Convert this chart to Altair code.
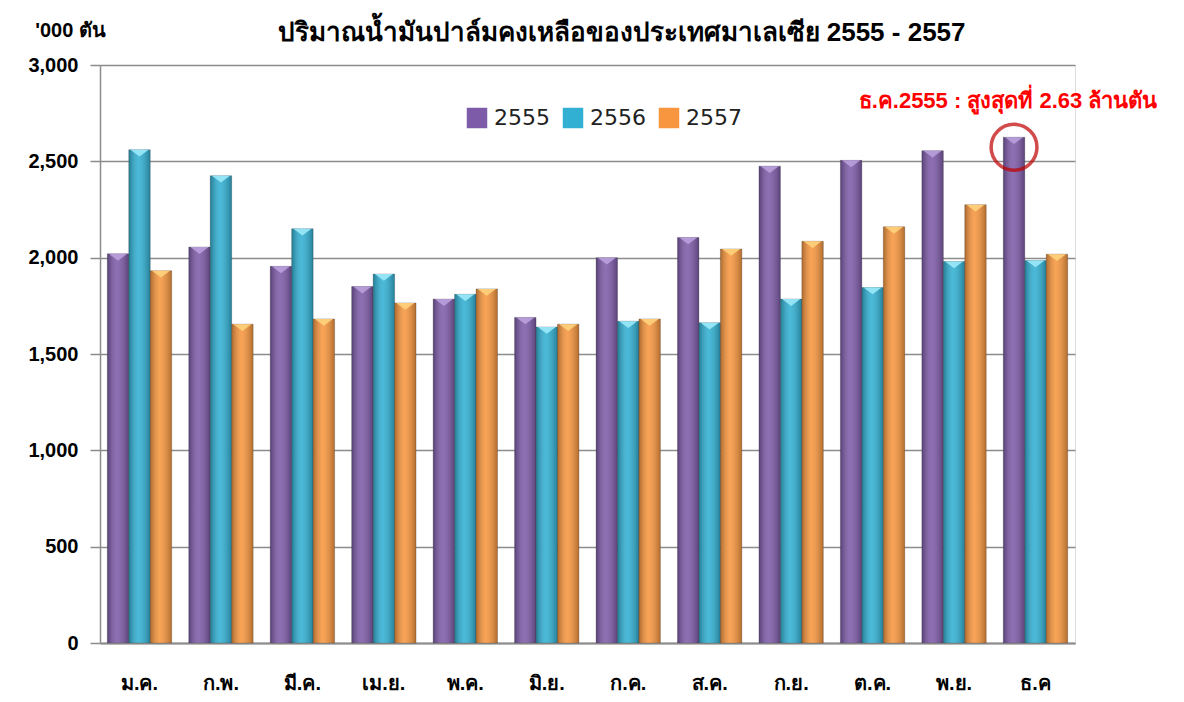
import altair as alt
import pandas as pd

months = ["ม.ค.", "ก.พ.", "มี.ค.", "เม.ย.", "พ.ค.", "มิ.ย.", "ก.ค.", "ส.ค.", "ก.ย.", "ต.ค.", "พ.ย.", "ธ.ค"]
years = ["2555", "2556", "2557"]
v2555 = [2020, 2055, 1955, 1850, 1785, 1690, 2000, 2105, 2475, 2505, 2555, 2625]
v2556 = [2560, 2425, 2150, 1915, 1810, 1640, 1670, 1662, 1785, 1845, 1980, 1985]
v2557 = [1932, 1655, 1682, 1765, 1838, 1655, 1682, 2045, 2085, 2160, 2275, 2018]
y_ticks = [0, 500, 1000, 1500, 2000, 2500, 3000]

colors = ["#7D5BA8", "#31B0D3", "#F7963E"]
top_colors = ["#B9A0DC", "#9BEAFA", "#FFD27C"]

title_text = "ปริมาณน้ำมันปาล์มคงเหลือของประเทศมาเลเซีย 2555 - 2557"
unit_text = "'000 ตัน"
note_text = "ธ.ค.2555 : สูงสุดที่ 2.63 ล้านตัน"

rows = []
for series, yr in zip([v2555, v2556, v2557], years):
    for m, v in zip(months, series):
        rows.append({"month": m, "year": yr, "value": v})
df = pd.DataFrame(rows)

peak = pd.DataFrame([{"month": "ธ.ค", "year": "2555", "value": v2555[-1], "note": note_text, "note_y": 2815}])

FONT = "Liberation Sans"

x_enc = alt.X(
    "month:N", sort=months,
    scale=alt.Scale(paddingInner=0.21, paddingOuter=0.09),
    axis=alt.Axis(title=None, labelAngle=0, labelFontSize=20, labelFontWeight="bold",
                  labelColor="#000000", labelPadding=30, ticks=False,
                  domainColor="#8c8c8c", domainWidth=2, labelFont=FONT),
)
xo_enc = alt.XOffset("year:N", sort=years)
y_enc = alt.Y(
    "value:Q",
    scale=alt.Scale(domain=[0, 3000], nice=False),
    axis=alt.Axis(title=unit_text, titleAngle=0, titleX=-30, titleY=-35, titleAlign="center",
                  titleBaseline="middle", titleFontSize=20, titleFontWeight="bold", titleColor="#000000",
                  titleFont=FONT,
                  values=y_ticks, format=",.0f", labelFontSize=20, labelFontWeight="bold",
                  labelColor="#000000", labelFont=FONT, labelPadding=12,
                  tickSize=10, tickColor="#8c8c8c", tickWidth=1.5,
                  domainColor="#8c8c8c", domainWidth=1.5,
                  grid=True, gridColor="#8c8c8c", gridWidth=1.5),
)

bars = alt.Chart(df).mark_bar(stroke="#4a4a4a", strokeWidth=0.6, strokeOpacity=0.5).encode(
    x=x_enc, xOffset=xo_enc, y=y_enc,
    color=alt.Color("year:N", sort=years,
                    scale=alt.Scale(domain=years, range=colors),
                    legend=alt.Legend(title=None, orient="none", direction="horizontal",
                                      legendX=366, legendY=42, symbolType="square",
                                      symbolSize=420, symbolStrokeWidth=0,
                                      labelFontSize=22, labelFont="DejaVu Sans",
                                      labelColor="#222222", columnPadding=12, labelOffset=6)),
)

shade = alt.Chart(df).mark_bar(
    color=alt.Gradient(
        gradient="linear", x1=0, x2=1, y1=0, y2=0,
        stops=[alt.GradientStop(color="rgba(0,0,0,0.30)", offset=0),
               alt.GradientStop(color="rgba(255,255,255,0.12)", offset=0.45),
               alt.GradientStop(color="rgba(0,0,0,0.28)", offset=1)],
    )
).encode(x=alt.X("month:N", sort=months), xOffset=xo_enc, y="value:Q")

tops = alt.Chart(df).mark_point(
    shape="M-1,0L1,0L0,0.75Z", filled=True, opacity=0.9, strokeWidth=0, size=330
).encode(
    x=alt.X("month:N", sort=months), xOffset=xo_enc, y="value:Q",
    fill=alt.Fill("year:N", sort=years, scale=alt.Scale(domain=years, range=top_colors), legend=None),
)

circle = alt.Chart(peak).mark_point(
    shape="circle", filled=False, stroke="#C00000", strokeWidth=3.5, size=2100, yOffset=10
).encode(x=alt.X("month:N", sort=months), xOffset=alt.XOffset("year:N", sort=years), y="value:Q")

note = alt.Chart(peak).mark_text(
    color="#FF0000", fontSize=22, fontWeight="bold", font=FONT, dx=-6
).encode(x=alt.X("month:N", sort=months), xOffset=alt.XOffset("year:N", sort=years),
         y="note_y:Q", text="note:N")

chart = alt.layer(bars, shade, tops, circle, note).resolve_scale(fill="independent").properties(
    width=975, height=578,
    title=alt.TitleParams(title_text, fontSize=26, fontWeight="bold", anchor="middle",
                          dx=34, offset=-26, color="#000000", font=FONT),
    autosize=alt.AutoSizeParams(type="none"),
    padding={"left": 92, "top": 57, "right": 100, "bottom": 50},
).configure_view(stroke=None).configure(background="white")

chart.save("out.html", embed_options={"renderer": "svg", "actions": False})
